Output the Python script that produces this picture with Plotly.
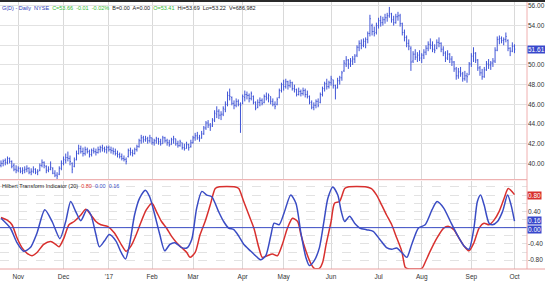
import pandas as pd
import plotly.graph_objects as go

# ---------------- DATA ----------------
holidays = ["2016-11-24", "2016-12-26", "2017-01-02", "2017-01-16", "2017-02-20",
            "2017-04-14", "2017-05-29", "2017-07-04", "2017-09-04"]
month_labels = ["Nov", "Dec", "'17", "Feb", "Mar", "Apr", "May", "Jun", "Jul", "Aug", "Sep", "Oct"]

open_ = [39.8, 40.0, 40.3, 40.1, 40.5, 40.2, 39.8, 39.4, 39.3, 39.5,
         39.2, 39.3, 39.4, 39.5, 39.1, 39.2, 39.4, 39.1, 39.3, 39.8,
         40.1, 39.7, 39.3, 39.4, 39.5, 39.0, 38.8, 38.9, 39.5, 40.0,
         40.3, 40.6, 40.5, 40.0, 39.7, 40.4, 41.0, 41.5, 41.2, 41.0,
         41.4, 41.2, 40.9, 41.3, 41.2, 41.1, 41.4, 41.6, 41.5, 41.4,
         41.6, 41.4, 41.3, 41.2, 41.0, 40.9, 40.7, 40.5, 40.4, 40.7,
         41.3, 41.1, 41.0, 41.4, 41.7, 42.3, 42.6, 42.4, 42.5, 42.3,
         42.6, 42.1, 42.3, 42.5, 42.2, 42.0, 42.6, 42.3, 42.1, 41.9,
         42.4, 42.5, 42.0, 41.8, 42.1, 41.6, 41.5, 41.9, 41.7, 42.1,
         42.6, 42.8, 42.6, 42.6, 43.0, 43.6, 44.1, 43.9, 43.8, 44.4,
         45.0, 45.3, 44.9, 45.0, 45.5, 46.0, 46.9, 46.7, 46.1, 45.9,
         46.3, 46.0, 46.1, 46.7, 47.0, 46.9, 46.6, 46.8, 46.2, 45.7,
         46.2, 46.4, 46.2, 46.8, 46.6, 46.8, 46.3, 46.0, 46.0, 46.7,
         47.4, 48.0, 47.8, 48.3, 47.9, 48.2, 47.6, 47.5, 47.0, 47.3,
         47.1, 47.4, 47.0, 46.8, 46.2, 45.7, 45.9, 46.3, 46.2, 47.0,
         47.6, 48.1, 47.8, 48.2, 48.5, 47.9, 47.7, 48.4, 48.7, 49.4,
         50.1, 50.5, 50.1, 50.4, 50.6, 51.0, 51.8, 52.2, 52.0, 52.4,
         52.6, 53.2, 54.0, 53.4, 53.3, 54.0, 54.5, 54.3, 54.6, 54.8,
         55.0, 55.2, 54.6, 54.3, 54.9, 55.0, 54.2, 53.3, 52.8, 52.2,
         51.7, 50.4, 51.1, 50.8, 51.0, 50.7, 51.0, 51.3, 51.7, 52.1,
         52.0, 51.6, 51.7, 52.3, 52.2, 51.6, 51.2, 50.7, 51.1, 50.6,
         50.3, 49.6, 48.9, 49.3, 49.1, 48.6, 48.9, 49.0, 50.1, 50.9,
         51.2, 50.5, 49.7, 49.2, 48.8, 49.5, 50.1, 50.0, 50.2, 50.4,
         51.5, 52.6, 52.7, 52.5, 52.6, 52.5, 51.7, 51.4, 51.9]

high = [40.3, 40.4, 40.5, 40.7, 40.6, 40.3, 40.0, 39.8, 39.7, 39.6,
        39.6, 39.7, 39.8, 39.6, 39.5, 39.7, 39.5, 39.4, 40.0, 40.4,
        40.2, 39.8, 39.7, 40.2, 39.6, 39.3, 39.1, 39.7, 40.3, 40.7,
        41.0, 41.2, 40.8, 40.1, 40.6, 41.3, 41.9, 41.8, 41.6, 41.7,
        41.6, 41.4, 41.5, 41.6, 41.5, 41.7, 41.8, 41.9, 41.7, 41.8,
        41.8, 41.7, 41.6, 41.5, 41.3, 41.1, 41.0, 40.8, 40.6, 41.5,
        41.6, 41.4, 41.6, 41.9, 42.5, 42.9, 42.8, 42.8, 42.7, 42.9,
        42.6, 42.5, 42.7, 42.6, 42.5, 42.8, 42.7, 42.5, 42.4, 42.6,
        42.8, 42.5, 42.3, 42.4, 42.1, 42.0, 42.2, 42.0, 42.4, 42.8,
        43.1, 43.2, 42.9, 43.3, 43.8, 44.3, 44.4, 44.1, 44.6, 45.4,
        45.8, 45.5, 45.3, 45.8, 46.3, 47.3, 47.6, 46.8, 46.4, 46.6,
        46.5, 46.2, 47.0, 47.4, 47.3, 47.1, 47.3, 46.9, 46.3, 46.5,
        46.7, 46.6, 47.0, 47.2, 47.1, 46.8, 46.6, 46.3, 46.7, 47.6,
        48.2, 48.5, 48.6, 48.4, 48.5, 48.3, 48.0, 47.6, 47.7, 47.5,
        47.7, 47.6, 47.4, 46.9, 46.4, 46.2, 46.5, 46.6, 47.2, 47.8,
        48.3, 48.6, 48.4, 48.9, 48.5, 48.0, 48.7, 48.9, 49.4, 50.5,
        50.9, 50.6, 50.7, 50.9, 51.1, 52.0, 52.5, 52.6, 52.7, 52.8,
        53.4, 55.1, 54.2, 53.9, 54.3, 54.8, 55.0, 54.9, 55.2, 55.3,
        55.9, 55.3, 55.0, 55.2, 55.4, 55.2, 54.3, 53.6, 53.0, 52.6,
        51.9, 51.4, 51.6, 51.3, 51.5, 51.2, 51.6, 52.0, 52.4, 52.7,
        52.4, 52.1, 52.6, 52.8, 52.3, 51.9, 51.4, 51.5, 51.2, 50.9,
        50.4, 49.8, 49.7, 49.8, 49.3, 49.4, 49.2, 50.3, 51.2, 51.8,
        51.3, 50.6, 49.9, 49.6, 49.8, 50.4, 50.6, 50.4, 50.7, 51.8,
        52.9, 53.0, 52.9, 52.8, 53.3, 52.6, 51.8, 52.3, 52.1]

low = [39.6, 39.7, 39.8, 39.9, 40.0, 39.5, 39.2, 39.0, 39.1, 39.0,
       38.9, 39.0, 39.1, 38.9, 38.8, 39.0, 38.9, 38.8, 39.2, 39.6,
       39.5, 39.0, 39.1, 39.3, 38.9, 38.6, 38.4, 38.8, 39.3, 39.8,
       40.0, 40.2, 39.8, 39.0, 39.6, 40.3, 40.9, 41.0, 40.7, 40.8,
       41.0, 40.6, 40.7, 41.0, 40.8, 41.0, 41.1, 41.2, 41.1, 41.0,
       41.2, 41.0, 40.9, 40.8, 40.6, 40.5, 40.3, 40.2, 39.9, 40.6,
       40.8, 40.7, 40.9, 41.2, 41.6, 42.0, 42.1, 42.2, 42.0, 42.1,
       41.9, 41.8, 42.0, 41.9, 41.8, 42.0, 42.1, 41.8, 41.7, 41.9,
       42.0, 41.8, 41.6, 41.7, 41.4, 41.3, 41.5, 41.3, 41.6, 42.0,
       42.3, 42.4, 42.2, 42.5, 42.9, 43.4, 43.6, 43.3, 43.7, 44.2,
       44.6, 44.5, 44.4, 44.8, 45.2, 45.8, 46.4, 45.9, 45.5, 45.7,
       45.8, 43.1, 46.0, 46.3, 46.5, 46.2, 46.4, 46.0, 45.4, 45.6,
       45.8, 45.9, 46.1, 46.4, 46.2, 46.0, 45.8, 45.5, 45.9, 46.6,
       47.2, 47.4, 47.6, 47.5, 47.7, 47.4, 47.2, 46.8, 46.9, 46.8,
       46.9, 46.7, 46.6, 46.0, 45.5, 45.4, 45.6, 45.7, 46.1, 46.8,
       47.3, 47.5, 47.6, 47.9, 47.6, 46.5, 47.6, 48.0, 48.4, 49.3,
       49.8, 49.6, 49.8, 50.0, 50.2, 50.8, 51.4, 51.6, 51.8, 51.7,
       52.2, 52.9, 53.0, 52.9, 53.1, 53.7, 53.9, 54.0, 54.2, 54.4,
       54.8, 54.3, 54.0, 54.2, 54.5, 53.9, 53.0, 52.4, 51.8, 51.5,
       49.4, 50.2, 50.5, 50.3, 50.4, 50.2, 50.6, 51.0, 51.4, 51.6,
       51.3, 51.2, 51.6, 51.8, 51.3, 50.9, 50.3, 50.5, 50.2, 49.9,
       49.3, 48.5, 48.6, 48.8, 48.3, 48.4, 48.2, 49.0, 49.8, 50.3,
       50.2, 49.4, 48.9, 48.5, 48.7, 49.4, 49.6, 49.5, 49.8, 50.2,
       51.4, 52.1, 52.2, 52.0, 52.3, 51.4, 50.9, 51.3, 51.2]

close = [40.0, 40.2, 40.1, 40.5, 40.2, 39.7, 39.4, 39.3, 39.5, 39.2,
         39.3, 39.4, 39.5, 39.1, 39.2, 39.4, 39.1, 39.2, 39.8, 40.1,
         39.8, 39.3, 39.4, 39.6, 39.0, 38.8, 38.7, 39.5, 40.0, 40.4,
         40.6, 40.5, 40.2, 39.4, 40.3, 41.0, 41.5, 41.2, 41.0, 41.4,
         41.2, 40.9, 41.3, 41.2, 41.1, 41.4, 41.6, 41.5, 41.4, 41.6,
         41.4, 41.3, 41.2, 41.0, 40.9, 40.7, 40.5, 40.4, 40.2, 41.3,
         41.1, 41.0, 41.4, 41.7, 42.3, 42.6, 42.4, 42.5, 42.3, 42.6,
         42.1, 42.3, 42.5, 42.2, 42.0, 42.6, 42.3, 42.1, 41.9, 42.4,
         42.5, 42.0, 41.8, 42.2, 41.6, 41.5, 41.9, 41.6, 42.1, 42.6,
         42.8, 42.6, 42.5, 43.0, 43.6, 44.1, 43.9, 43.7, 44.4, 45.1,
         45.3, 44.9, 45.0, 45.6, 46.0, 46.9, 46.8, 46.1, 45.9, 46.3,
         46.0, 45.9, 46.8, 47.0, 46.9, 46.6, 47.1, 46.2, 45.6, 46.2,
         46.4, 46.1, 46.8, 46.7, 46.9, 46.3, 46.0, 45.8, 46.5, 47.4,
         48.0, 47.8, 48.3, 47.9, 48.2, 47.6, 47.5, 47.0, 47.3, 47.1,
         47.4, 47.0, 46.8, 46.2, 45.7, 45.9, 46.3, 45.9, 47.0, 47.6,
         48.1, 47.8, 48.2, 48.6, 47.9, 47.6, 48.4, 48.7, 49.2, 50.2,
         50.5, 50.1, 50.4, 50.6, 50.9, 51.8, 52.2, 52.0, 52.4, 52.6,
         53.2, 54.7, 53.4, 53.2, 54.0, 54.5, 54.3, 54.6, 54.8, 55.0,
         55.2, 54.6, 54.3, 54.9, 55.0, 54.2, 53.3, 52.8, 52.2, 51.9,
         50.3, 51.1, 50.8, 51.0, 50.7, 51.0, 51.3, 51.7, 52.1, 52.0,
         51.6, 51.5, 52.3, 52.2, 51.6, 51.2, 50.7, 51.1, 50.6, 50.3,
         49.6, 48.9, 49.3, 49.1, 48.6, 48.9, 48.8, 50.1, 50.9, 51.2,
         50.5, 49.7, 49.2, 48.8, 49.5, 50.1, 50.0, 50.2, 50.4, 51.5,
         52.6, 52.7, 52.5, 52.6, 52.9, 51.7, 51.4, 51.9, 51.61]

# Hilbert transform indicator, read at key points (bar number, value)
hilbert_a_bar = [0, 4.3, 7.4, 10.5, 13.6, 16.7, 20.3, 23.7, 27.3, 30.0, 32.3, 34.6, 37.0, 39.8,
                 41.7, 44.0, 45.6, 47.9, 50.2, 53.3, 55.7, 57.7, 59.6, 61.9, 64.2, 66.9, 68.9,
                 71.3, 73.6, 75.9, 78.3, 80.6, 83.7, 86.1, 88.4, 90.7, 93.1, 95.4, 97.7, 100.8,
                 103.2, 105.5, 107.9, 110.2, 112.5, 115.6, 118.0, 120.3, 122.7, 125.0, 126.6,
                 128.9, 131.2, 134.3, 136.7, 139.0, 141.3, 142.9, 145.2, 147.6, 149.9, 151.5,
                 153.8, 156.1, 157.7, 159.3, 161.6, 163.9, 166.3, 169.4, 172.5, 175.6, 178.7,
                 181.1, 183.4, 185.7, 188.1, 190.4, 193.5, 196.6, 199.8, 202.1, 205.2, 208.3,
                 211.4, 214.6, 216.9, 219.2, 220.8, 222.3, 223.9, 226.2, 227.8, 230.1, 232.5,
                 234.8, 236.4, 238]
hilbert_a = [0.23, -0.01, -0.37, -0.58, -0.49, -0.13, 0.44, 0.15, -0.27, 0.15, 0.64, 0.40, 0.17, 0.44,
             0.31, -0.17, -0.47, -0.33, -0.17, -0.33, -0.61, -0.77, -0.41, 0.31, 0.72, 0.92, 0.76,
             0.31, -0.17, -0.57, -0.41, -0.37, -0.49, -0.50, -0.29, 0.48, 0.89, 0.80, 0.76, 0.40,
             0.15, -0.01, -0.05, -0.21, -0.41, -0.57, -0.69, -0.79, -0.69, -0.21, 0.11,
             0.07, 0.36, 0.80, 0.60, -0.13, -0.73, -0.93, -0.81, -0.49, 0.23, 0.72,
             1.00, 0.80, 0.40, 0.15, 0.28, 0.11, -0.01, -0.05, -0.09, -0.29, -0.49,
             -0.53, -0.50, -0.61, -0.73, -0.41, -0.01, 0.07, 0.44, 0.64, 0.48, 0.15,
             -0.17, -0.45, -0.53, -0.01, 0.64, 0.80, 0.56, 0.11, 0.07, 0.15, 0.40,
             0.80, 0.56, 0.16]

hilbert_b_bar = [0, 2.7, 5.1, 7.4, 9.7, 12.1, 14.4, 16.7, 19.8, 23.0, 25.3, 26.9, 29.2, 31.5, 33.9,
                 37.0, 39.3, 41.7, 44.0, 46.3, 49.4, 52.6, 55.7, 58.0, 60.3, 62.7, 65.0, 67.4,
                 70.0, 72.0, 74.4, 76.7, 79.0, 81.4, 83.7, 86.1, 87.6, 90.0, 92.3, 94.6, 97.0,
                 99.3, 100.8, 108.6, 110.2, 112.5, 114.9, 117.2, 119.5, 121.1, 123.4, 125.8,
                 128.1, 130.4, 132.8, 135.1, 137.5, 139.0, 141.3, 143.7, 145.2, 147.6, 149.1,
                 150.7, 153.0, 154.6, 156.9, 159.3, 160.8, 169.4, 171.7, 174.1, 176.4, 178.7,
                 181.1, 183.4, 185.7, 187.3, 188.1, 195.1, 196.6, 199.0, 202.1, 205.2, 207.5,
                 209.9, 212.2, 214.6, 216.9, 219.2, 221.6, 223.9, 226.2, 228.6, 230.9, 233.2,
                 235.1, 238]
hilbert_b = [0.25, 0.19, 0.07, -0.25, -0.49, -0.63, -0.69, -0.61, -0.41, -0.34, -0.41, -0.47, -0.25, 0.07, 0.15,
             0.31, 0.45, 0.31, 0.15, 0.07, 0.03, -0.13, -0.41, -0.58, -0.45, -0.17, 0.15, 0.44,
             0.60, 0.40, 0.15, -0.01, -0.21, -0.37, -0.49, -0.61, -0.73, -0.61, -0.17, 0.15, 0.56,
             0.96, 1.00, 1.00, 0.96, 0.64, 0.31, -0.01, -0.49, -0.73, -0.69, -0.65,
             -0.69, -0.41, -0.01, 0.23, 0.15, -0.17, -0.57, -0.89, -1.00, -1.00, -0.85,
             -0.41, 0.15, 0.60, 0.64, 0.96, 1.00, 1.00, 0.96, 0.80, 0.56, 0.31,
             0.07, -0.25, -0.57, -0.97, -1.00, -1.00, -0.85, -0.57, -0.25, -0.01, 0.03,
             -0.05, -0.25, -0.45, -0.57, -0.37, -0.01, 0.11, 0.07, 0.19, 0.40, 0.72,
             0.96, 0.81]

price_ticks = [40, 42, 44, 46, 48, 50, 52, 54, 56]
price_ticktext = ["40.00", "42.00", "44.00", "46.00", "48.00", "50.00", "", "54.00", "56.00"]
ind_ticks = [-0.8, -0.4, 0.0, 0.4, 0.8]
ind_ticktext = ["-0.80", "-0.40", "", "0.40", ""]
ind_minor = [-1.0, -0.6, -0.2, 0.2, 0.6, 1.0]

# ---------------- BUILD ----------------
dates = pd.bdate_range("2016-10-20", "2017-10-02")
dates = dates[~dates.isin(pd.to_datetime(holidays))]
bars = list(range(len(dates)))
month_pos = [i for i in range(1, len(dates)) if dates[i].month != dates[i - 1].month]

BAR_BLUE = "#4055d6"
LINE_BLUE = "#3a4cc4"
RED = "#d8302e"
GRID = "#e2e2e2"
VGRID = "#d9d9d9"
TXT = "#333333"
FONT = "Liberation Sans, Arial, sans-serif"

fig = go.Figure()
fig.add_trace(go.Ohlc(
    x=bars, open=open_, high=high, low=low, close=close,
    increasing=dict(line=dict(color=BAR_BLUE, width=1)),
    decreasing=dict(line=dict(color=BAR_BLUE, width=1)),
    tickwidth=0.35, xaxis="x", yaxis="y", showlegend=False, hoverinfo="skip"))

fig.add_trace(go.Scatter(
    x=hilbert_b_bar, y=hilbert_b, mode="lines",
    line=dict(color=RED, width=1.5, shape="spline", smoothing=0.7),
    xaxis="x2", yaxis="y2", showlegend=False, hoverinfo="skip"))
fig.add_trace(go.Scatter(
    x=hilbert_a_bar, y=hilbert_a, mode="lines",
    line=dict(color=LINE_BLUE, width=1.5, shape="spline", smoothing=0.7),
    xaxis="x2", yaxis="y2", showlegend=False, hoverinfo="skip"))

xr = [-0.46, 243.8]
common_x = dict(range=xr, tickvals=month_pos, ticktext=month_labels, showgrid=True,
                gridcolor=VGRID, gridwidth=1, zeroline=False, showline=False, ticks="",
                fixedrange=True)

fig.update_layout(
    width=545, height=281,
    margin=dict(l=0, r=15, t=2, b=6),
    paper_bgcolor="white", plot_bgcolor="white",
    font=dict(family=FONT, size=7, color=TXT),
    xaxis=dict(**common_x, anchor="y", showticklabels=False, rangeslider=dict(visible=False)),
    xaxis2=dict(**common_x, anchor="y2", matches="x", showticklabels=True,
                ticklabelstandoff=2, tickfont=dict(size=6.5, color=TXT)),
    yaxis=dict(domain=[0.337, 1], range=[38.41, 56.40], side="right", tickvals=price_ticks,
               ticktext=price_ticktext, showgrid=True, gridcolor=GRID, zeroline=False,
               ticks="", tickfont=dict(size=6.5, color=TXT), anchor="x"),
    yaxis2=dict(domain=[0, 0.330], range=[-1.016, 1.148], side="right", tickvals=ind_ticks,
                ticktext=ind_ticktext, showgrid=True, gridcolor=GRID, griddash="dash",
                zeroline=False, ticks="", tickfont=dict(size=6.5, color=TXT), anchor="x2",
                minor=dict(tickvals=ind_minor, showgrid=True, gridcolor=GRID, griddash="dash")),
)

shapes = [
    dict(type="line", xref="paper", yref="y2", x0=0, x1=1, y0=0, y1=0,
         line=dict(color=LINE_BLUE, width=1)),
    dict(type="line", xref="paper", yref="paper", x0=1, x1=1, y0=0, y1=1,
         line=dict(color="#f0b0b0", width=1)),
    dict(type="line", xref="paper", yref="paper", x0=0, x1=1, y0=0.3345, y1=0.3345,
         line=dict(color="#eaa0a0", width=1)),
    dict(type="line", xref="paper", yref="paper", x0=0, x1=1.06, y0=0, y1=0,
         line=dict(color="#eaa0a0", width=1)),
    dict(type="rect", xref="paper", yref="paper", x0=0, x1=1.1, y0=1.0, y1=1.008,
         fillcolor="#2a2a2a", line=dict(width=0)),
]
fig.update_layout(shapes=shapes)

header = ('<span style="color:#2a3cb8">G(D) - Daily  NYSE</span>  '
          '<span style="color:#35c035">C=53.66  -0.01  -0.02%</span>  '
          'B=0.00  A=0.00  '
          '<span style="color:#35c035">O=53.41</span>  '
          'Hi=53.69  Lo=53.22  V=686,982')
ind_header = ('Hilbert Transform Indicator (20)  '
              '<span style="color:#d8302e">0.80</span>  '
              '<span style="color:#3a4cc4">0.00  0.16</span>')

annotations = [
    dict(text=header, xref="paper", yref="paper", x=0, y=1, xanchor="left", yanchor="top",
         yshift=-1, showarrow=False, font=dict(size=5.5, color="#222222")),
    dict(text=ind_header, xref="paper", yref="paper", x=0, y=0.330, xanchor="left",
         yanchor="top", yshift=0, showarrow=False, font=dict(size=5.5, color="#222222")),
    dict(text="51.61", xref="paper", yref="y", x=1, y=close[-1], xanchor="left",
         yanchor="middle", showarrow=False, bgcolor="#3848cc", borderpad=0,
         font=dict(size=6.5, color="white")),
    dict(text="0.80", xref="paper", yref="y2", x=1, y=0.8, xanchor="left",
         yanchor="middle", showarrow=False, bgcolor=RED, borderpad=0,
         font=dict(size=6.5, color="white")),
    dict(text="0.16", xref="paper", yref="y2", x=1, y=0.16, xanchor="left",
         yanchor="middle", showarrow=False, bgcolor="#3848cc", borderpad=0, yshift=1,
         font=dict(size=6.5, color="white")),
    dict(text="0.00", xref="paper", yref="y2", x=1, y=0.0, xanchor="left",
         yanchor="middle", showarrow=False, bgcolor="#3848cc", borderpad=0, yshift=-2,
         font=dict(size=6.5, color="white")),
]
fig.update_layout(annotations=annotations)

fig.write_html("out.html")
